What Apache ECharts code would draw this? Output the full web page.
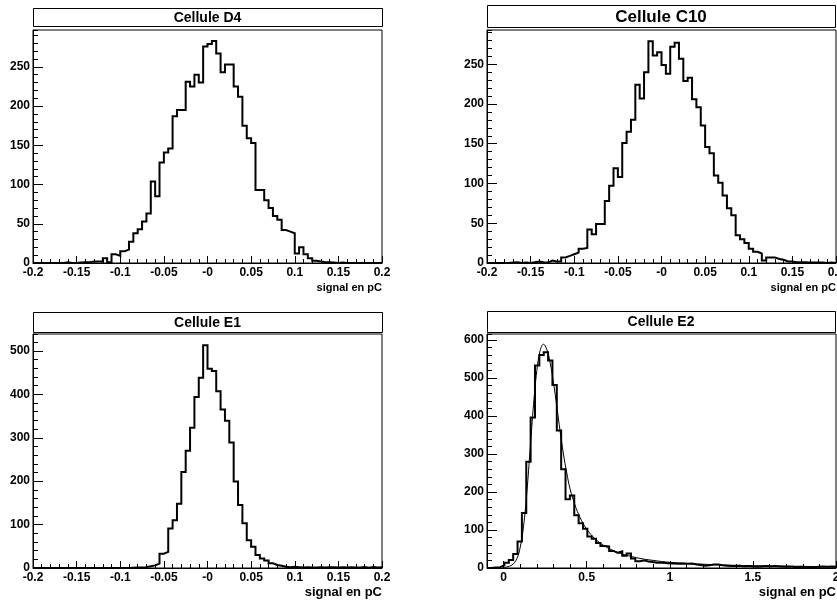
<!DOCTYPE html>
<html><head><meta charset="utf-8">
<script src="https://cdn.jsdelivr.net/npm/echarts@6/dist/echarts.min.js"></script>
<style>html,body{margin:0;padding:0;background:#fff}#c{width:837px;height:600px}</style>
</head><body><div id="c"></div>
<script>
// ---------------- DATA ----------------
const titles = ['Cellule D4', 'Cellule C10', 'Cellule E1', 'Cellule E2'];
const axisTitle = 'signal en pC';

// histogram ranges (80 bins each)
const symRange = [-0.2, 0.2];
const e2Range = [-0.1, 2.0];

const d4Counts = [0,0,0,0,0,0,0,1,0,0, 0.5,1,1,2,2,2,6,1,11,9,
  15,17,27,38,43,53,63,104,85,128, 141,146,187,195,195,231,225,240,230,276,
  279,283,267,243,253,253,225,212,175,159, 153,93,93,80,70,60,55,42,40,38,
  12,20,11,6,3,2,1,1,0.5,0, 0.5,0,0,0,0,0,0,0,0,0];

const c10Counts = [0,0,0,0,0,0.5,1,0,0.5,0, 1,2,1,0.5,3,2,2,7,9,11,
  13,18,19,42,36,49,49,78,97,119, 108,151,165,180,224,207,240,279,261,265,
  249,238,272,277,257,229,233,206,196,173, 146,138,110,101,85,69,60,35,30,25,
  18,14,12,3,7,7,5,4,2,2, 1,1,1,0.5,0.5,0.5,0.5,0,0.5,0];

const e1Counts = [0,0,0,0,0,0,0,0,0,0, 0,0,0,0,0,0,0,0,0,0,
  0,0,0.5,1,1,2,4,6,10,33, 37,91,110,148,221,270,323,394,438,513,
  459,454,407,365,339,289,199,145,103,64, 49,30,22,17,11,7,5,3,2,3,
  2,1,2,1,1,2,1,2,2,1, 2,1,2,1,1,2,0.5,2,1,2];

const e2Counts = [0,1,2,7,14,21,37,70,145,280, 396,533,561,568,546,482,362,260,181,191,
  139,118,103,83,77,66,58,57,45,40, 44,32,38,25,18,20,17,16,14,14,
  13,12,12,11,12,11,12,9,8,6, 7,9,9,7,6,5,5,6,4,5,
  4,3,4,5,4,5,4,3,3,3, 2,3,2,2,2,3,4,3,4,3];

// fitted curve on Cellule E2
const e2FitX = [0, 0.05, 0.08, 0.1, 0.12, 0.14, 0.16, 0.18, 0.2, 0.22, 0.24, 0.26, 0.28, 0.3, 0.32, 0.34, 0.36, 0.38, 0.4, 0.43, 0.46, 0.5, 0.55, 0.6, 0.65, 0.7, 0.8, 0.9, 1.0, 1.2, 1.4, 1.7, 2.0];
const e2FitY = [1, 8, 25, 55, 110, 200, 315, 430, 520, 573, 589, 575, 540, 488, 425, 360, 300, 250, 208, 165, 133, 102, 77, 60, 48, 39, 27, 20, 15, 10, 7, 5, 3];

// tick values and labels
const symTicks = [-0.2, -0.15, -0.1, -0.05, 0, 0.05, 0.1, 0.15, 0.2];
const symTickLabels = ['-0.2', '-0.15', '-0.1', '-0.05', '-0', '0.05', '0.1', '0.15', '0.2'];
const e2Ticks = [0, 0.5, 1, 1.5, 2];
const e2TickLabels = ['0', '0.5', '1', '1.5', '2'];
const yTicks250 = [0, 50, 100, 150, 200, 250];
const yTicks500 = [0, 100, 200, 300, 400, 500];
const yTicks600 = [0, 100, 200, 300, 400, 500, 600];
const yMaxes = [297, 293, 539, 616];

// ---------------- LAYOUT ----------------
const FONT = "'Liberation Sans', Arial, Helvetica, sans-serif";
const panels = [
  {counts: d4Counts, range: symRange, xt: symTicks, xl: symTickLabels, xMajor: 0.05, xMinor: 0.01,
   yt: yTicks250, yMajor: 50, ymax: yMaxes[0],
   grid: {left: 33, top: 30, width: 349, height: 233},
   box: {x: 33, y: 8, w: 349, h: 18}, titleSize: 14, labelSize: 12, nameSize: 11, nameCenter: 288},
  {counts: c10Counts, range: symRange, xt: symTicks, xl: symTickLabels, xMajor: 0.05, xMinor: 0.01,
   yt: yTicks250, yMajor: 50, ymax: yMaxes[1],
   grid: {left: 487, top: 30, width: 349, height: 233},
   box: {x: 487, y: 5, w: 348, h: 22}, titleSize: 17, labelSize: 12, nameSize: 11, nameCenter: 288},
  {counts: e1Counts, range: symRange, xt: symTicks, xl: symTickLabels, xMajor: 0.05, xMinor: 0.01,
   yt: yTicks500, yMajor: 100, ymax: yMaxes[2],
   grid: {left: 33, top: 334, width: 349, height: 234},
   box: {x: 33, y: 312, w: 349, h: 20}, titleSize: 14, labelSize: 12, nameSize: 13, nameCenter: 592},
  {counts: e2Counts, range: e2Range, xt: e2Ticks, xl: e2TickLabels, xMajor: 0.1, xMinor: 0.1,
   yt: yTicks600, yMajor: 100, ymax: yMaxes[3],
   grid: {left: 487, top: 334, width: 349, height: 234},
   box: {x: 487, y: 311, w: 348, h: 21}, titleSize: 14, labelSize: 12, nameSize: 13, nameCenter: 592}
];

const grids = [], xAxes = [], yAxes = [], series = [], graphics = [];

panels.forEach((p, k) => {
  grids.push(Object.assign({show: true, borderColor: '#000', borderWidth: 1, backgroundColor: 'transparent',
    containLabel: false, outerBoundsMode: 'none'}, p.grid));
  const axisY = p.grid.top + p.grid.height;
  const labelStyle = {color: '#000', fontFamily: FONT, fontWeight: 'bold', fontSize: p.labelSize};
  // major x axis
  xAxes.push({
    gridIndex: k, type: 'value', position: 'bottom', min: p.range[0], max: p.range[1], interval: p.xMajor,
    axisLine: {show: true, onZero: false, lineStyle: {color: '#000', width: 1}},
    axisTick: {show: true, inside: true, length: 7, customValues: p.xt, lineStyle: {color: '#000', width: 1}},
    axisLabel: Object.assign({show: true, margin: 4, customValues: p.xt, hideOverlap: false,
      formatter: function (v) {
        let best = 0;
        p.xt.forEach((t, i) => { if (Math.abs(t - v) < Math.abs(p.xt[best] - v)) best = i; });
        return p.xl[best];
      }}, labelStyle),
    splitLine: {show: false},
    name: axisTitle, nameLocation: 'end', nameGap: 0,
    nameTextStyle: {color: '#000', fontFamily: FONT, fontWeight: 'bold', fontSize: p.nameSize,
      align: 'right', verticalAlign: 'top', padding: [p.nameCenter - axisY - p.nameSize / 2, 0, 0, 0]}
  });
  // minor x ticks
  xAxes.push({
    gridIndex: k, type: 'value', position: 'bottom', min: p.range[0], max: p.range[1], interval: p.xMinor,
    axisLine: {show: false, onZero: false}, axisLabel: {show: false}, splitLine: {show: false},
    axisTick: {show: true, inside: true, length: 4, lineStyle: {color: '#000', width: 1}}
  });
  // major y axis
  yAxes.push({
    gridIndex: k, type: 'value', position: 'left', min: 0, max: p.ymax, interval: p.yMajor,
    axisLine: {show: true, onZero: false, lineStyle: {color: '#000', width: 1}},
    axisTick: {show: true, inside: true, length: 10, customValues: p.yt, lineStyle: {color: '#000', width: 1}},
    axisLabel: Object.assign({show: true, margin: 3, customValues: p.yt}, labelStyle),
    splitLine: {show: false}
  });
  // minor y ticks
  yAxes.push({
    gridIndex: k, type: 'value', position: 'left', min: 0, max: p.ymax, interval: p.yMajor / 5,
    axisLine: {show: false, onZero: false}, axisLabel: {show: false}, splitLine: {show: false},
    axisTick: {show: true, inside: true, length: 5, lineStyle: {color: '#000', width: 1}}
  });

  // histogram outline
  const n = p.counts.length;
  const w = (p.range[1] - p.range[0]) / n;
  const pts = p.counts.map((c, i) => [p.range[0] + i * w, c]);
  pts.push([p.range[1], p.counts[n - 1]]);
  series.push({
    type: 'line', xAxisIndex: 2 * k, yAxisIndex: 2 * k, data: pts, step: 'end',
    symbol: 'none', clip: true, animation: false,
    lineStyle: {color: '#000', width: 2, join: 'miter'}, z: 3
  });

  // title box
  graphics.push({
    type: 'rect', shape: {x: p.box.x + 0.5, y: p.box.y + 0.5, width: p.box.w, height: p.box.h},
    style: {fill: '#fff', stroke: '#000', lineWidth: 1}, z: 10
  });
  graphics.push({
    type: 'text', x: p.box.x + p.box.w / 2, y: p.box.y + p.box.h / 2 + 1, z: 11,
    style: {text: titles[k], align: 'center', verticalAlign: 'middle', fill: '#000',
      fontFamily: FONT, fontWeight: 'bold', fontSize: p.titleSize}
  });
});

// fit curve on E2
series.push({
  type: 'line', xAxisIndex: 6, yAxisIndex: 6, data: e2FitX.map((x, i) => [x, e2FitY[i]]),
  smooth: 0.4, symbol: 'none', animation: false, clip: true,
  lineStyle: {color: '#000', width: 1}, z: 4
});

const chart = echarts.init(document.getElementById('c'), null, {renderer: 'canvas'});
chart.setOption({
  backgroundColor: '#fff',
  animation: false,
  grid: grids, xAxis: xAxes, yAxis: yAxes, series: series,
  graphic: graphics
});
</script>
</body></html>
